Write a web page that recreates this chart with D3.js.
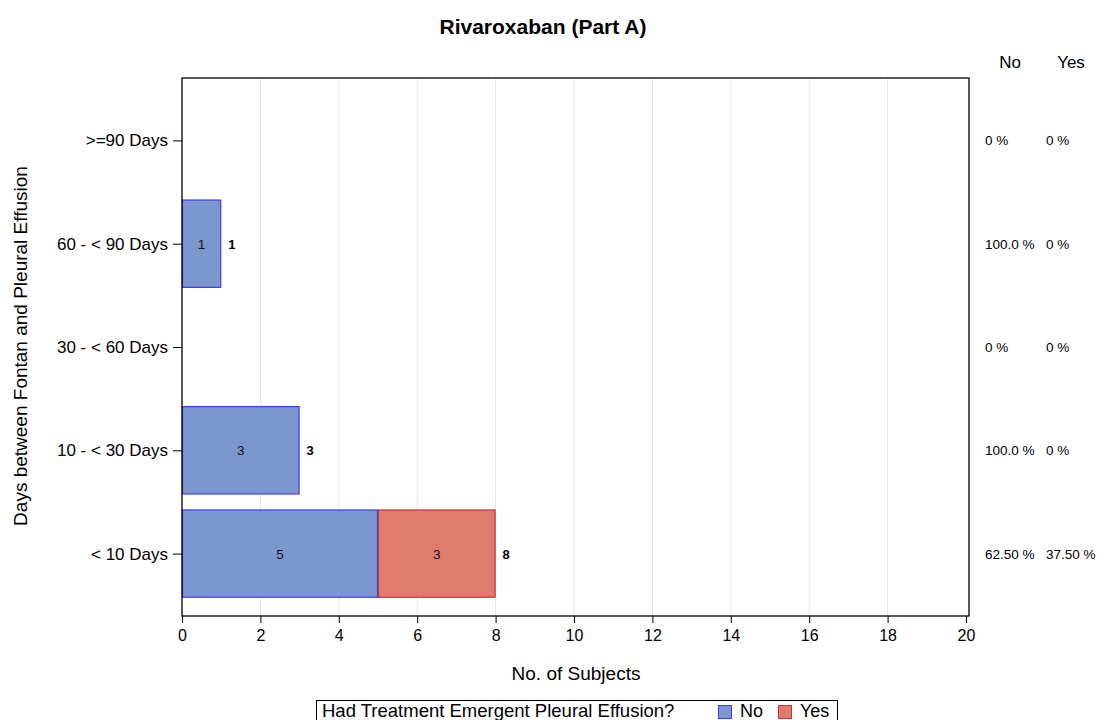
<!DOCTYPE html>
<html>
<head>
<meta charset="utf-8">
<script src="https://cdn.jsdelivr.net/npm/d3@7"></script>
<style>
  html, body { margin: 0; padding: 0; background: #fff; }
  svg { display: block; font-family: "Liberation Sans", Arial, sans-serif; }
</style>
</head>
<body>
<svg id="chart" width="1098" height="720"></svg>
<script>
// Interval categories, top to bottom
const categories = [">=90 Days", "60 - < 90 Days", "30 - < 60 Days", "10 - < 30 Days", "< 10 Days"];
// Subject counts by pleural effusion outcome
const noCounts = [0, 1, 0, 3, 5];
const yesCounts = [0, 0, 0, 0, 3];
// Row percentages shown in the right-hand columns
const noPct = ["0 %", "100.0 %", "0 %", "100.0 %", "62.50 %"];
const yesPct = ["0 %", "0 %", "0 %", "0 %", "37.50 %"];
const xTicks = [0, 2, 4, 6, 8, 10, 12, 14, 16, 18, 20];

const svg = d3.select("#chart");
const frame = { left: 182, right: 969, top: 78, bottom: 616 };
const FONT = "Liberation Sans, Arial, sans-serif";

const x = d3.scaleLinear().domain([0, 20]).range([frame.left, 966]);
const y = d3.scalePoint().domain(categories).range([frame.top, frame.bottom]).padding(0.604);
const barH = y.step() * 0.845;

const colors = {
  No: { fill: "#7c97cd", stroke: "#3c3cf0" },
  Yes: { fill: "#e07c6e", stroke: "#c9323f" }
};

// Title
svg.append("text").attr("x", 543).attr("y", 34).attr("text-anchor", "middle")
  .attr("font-size", 21).attr("font-weight", "bold").text("Rivaroxaban (Part A)");

// Vertical gridlines
svg.append("g").selectAll("line").data(xTicks.filter(d => d > 0 && d < 20)).join("line")
  .attr("x1", d => x(d)).attr("x2", d => x(d))
  .attr("y1", frame.top).attr("y2", frame.bottom)
  .attr("stroke", "#e4e4e4").attr("stroke-width", 1);

// Stacked bars
const rows = categories.map((c, i) => ({ cat: c, no: noCounts[i], yes: yesCounts[i] }));
const segs = [];
rows.forEach(r => {
  if (r.no > 0) segs.push({ cat: r.cat, x0: 0, x1: r.no, v: r.no, key: "No" });
  if (r.yes > 0) segs.push({ cat: r.cat, x0: r.no, x1: r.no + r.yes, v: r.yes, key: "Yes" });
});

const gBars = svg.append("g");
gBars.selectAll("rect").data(segs).join("rect")
  .attr("x", d => x(d.x0) + 0.5)
  .attr("y", d => y(d.cat) - barH / 2)
  .attr("width", d => x(d.x1) - x(d.x0) - 1)
  .attr("height", barH)
  .attr("fill", d => colors[d.key].fill)
  .attr("stroke", d => colors[d.key].stroke)
  .attr("stroke-width", 1.2);

// Segment value labels
gBars.selectAll("text.seg").data(segs).join("text").attr("class", "seg")
  .attr("x", d => (x(d.x0) + x(d.x1)) / 2)
  .attr("y", d => y(d.cat) + 5)
  .attr("text-anchor", "middle").attr("font-size", 13.5).attr("fill", "#111")
  .text(d => d.v);

// Total labels at the end of each bar
gBars.selectAll("text.tot").data(rows.filter(r => r.no + r.yes > 0)).join("text").attr("class", "tot")
  .attr("x", d => x(d.no + d.yes) + 7)
  .attr("y", d => y(d.cat) + 5)
  .attr("font-size", 13).attr("font-weight", "bold").attr("fill", "#000")
  .text(d => d.no + d.yes);

// Plot frame
svg.append("rect").attr("x", frame.left).attr("y", frame.top)
  .attr("width", frame.right - frame.left).attr("height", frame.bottom - frame.top)
  .attr("fill", "none").attr("stroke", "#000").attr("stroke-width", 1.3);

// X axis
const xAxis = svg.append("g").attr("transform", `translate(0,${frame.bottom})`)
  .call(d3.axisBottom(x).tickValues(xTicks).tickSize(7).tickPadding(7));
xAxis.select(".domain").remove();
xAxis.selectAll("line").attr("stroke", "#000");
xAxis.selectAll("text").attr("font-size", 16).attr("fill", "#000").attr("font-family", FONT);

// Y axis
const yAxis = svg.append("g").attr("transform", `translate(${frame.left},0)`)
  .call(d3.axisLeft(y).tickSize(9).tickPadding(5));
yAxis.select(".domain").remove();
yAxis.selectAll("line").attr("stroke", "#000");
yAxis.selectAll("text").attr("font-size", 17).attr("fill", "#000").attr("font-family", FONT);

// Axis titles
svg.append("text").attr("x", 576).attr("y", 680).attr("text-anchor", "middle")
  .attr("font-size", 19).text("No. of Subjects");
svg.append("text").attr("transform", `translate(27,${(frame.top + frame.bottom) / 2 - 1}) rotate(-90)`)
  .attr("text-anchor", "middle").attr("font-size", 19).text("Days between Fontan and Pleural Effusion");

// Right-hand percentage columns
svg.append("text").attr("x", 1010).attr("y", 68).attr("text-anchor", "middle").attr("font-size", 17).text("No");
svg.append("text").attr("x", 1071).attr("y", 68).attr("text-anchor", "middle").attr("font-size", 17).text("Yes");
const gPct = svg.append("g");
gPct.selectAll("text.pn").data(categories).join("text").attr("class", "pn")
  .attr("x", 985).attr("y", d => y(d) + 5).attr("font-size", 13.5)
  .text((d, i) => noPct[i]);
gPct.selectAll("text.py").data(categories).join("text").attr("class", "py")
  .attr("x", 1046).attr("y", d => y(d) + 5).attr("font-size", 13.5)
  .text((d, i) => yesPct[i]);

// Legend
const lg = svg.append("g");
lg.append("rect").attr("x", 316.5).attr("y", 700.5).attr("width", 521).attr("height", 26)
  .attr("fill", "#fff").attr("stroke", "#000").attr("stroke-width", 1);
lg.append("text").attr("x", 322).attr("y", 716.5).attr("font-size", 18.5)
  .text("Had Treatment Emergent Pleural Effusion?");
const legendItems = [
  { key: "No", sx: 718, tx: 740 },
  { key: "Yes", sx: 778, tx: 800 }
];
legendItems.forEach(it => {
  lg.append("rect").attr("x", it.sx + 0.5).attr("y", 705.5).attr("width", 13).attr("height", 13)
    .attr("fill", colors[it.key].fill).attr("stroke", colors[it.key].stroke).attr("stroke-width", 1);
  lg.append("text").attr("x", it.tx).attr("y", 716.5).attr("font-size", 18).text(it.key);
});
</script>
</body>
</html>
